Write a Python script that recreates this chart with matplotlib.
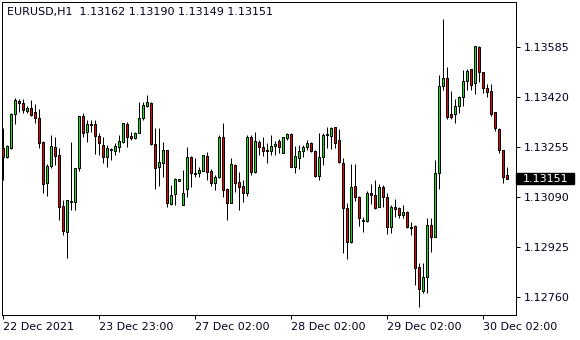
import matplotlib
matplotlib.use("Agg")
import matplotlib.pyplot as plt
from matplotlib.patches import Rectangle
from matplotlib.transforms import blended_transform_factory

symbol_title = "EURUSD,H1  1.13162 1.13190 1.13149 1.13151"

opens = [1.13253, 1.13223, 1.13253, 1.13365, 1.13408, 1.13401, 1.13375, 1.13385, 1.13371, 1.13352,
         1.13272, 1.13137, 1.13193, 1.13256, 1.13230, 1.13061, 1.12975, 1.13078, 1.13075, 1.13187,
         1.13358, 1.13305, 1.13328, 1.13332, 1.13292, 1.13263, 1.13223, 1.13249, 1.13243, 1.13256,
         1.13272, 1.13332, 1.13292, 1.13286, 1.13302, 1.13352, 1.13391, 1.13401, 1.13266, 1.13190,
         1.13203, 1.13246, 1.13068, 1.13101, 1.13144, 1.13065, 1.13118, 1.13223, 1.13170, 1.13170,
         1.13177, 1.13226, 1.13177, 1.13137, 1.13157, 1.13289, 1.13118, 1.13071, 1.13197, 1.13140,
         1.13127, 1.13104, 1.13289, 1.13174, 1.13272, 1.13256, 1.13246, 1.13243, 1.13259, 1.13276,
         1.13236, 1.13286, 1.13299, 1.13190, 1.13220, 1.13243, 1.13256, 1.13269, 1.13243, 1.13161,
         1.13223, 1.13296, 1.13292, 1.13322, 1.13279, 1.13203, 1.13055, 1.12942, 1.13127, 1.13091,
         1.13015, 1.13012, 1.13104, 1.13098, 1.13058, 1.13124, 1.13091, 1.12992, 1.13058, 1.13055,
         1.13032, 1.13041, 1.12992, 1.12995, 1.12860, 1.12781, 1.12827, 1.12998, 1.12959, 1.13170,
         1.13457, 1.13484, 1.13365, 1.13365, 1.13391, 1.13421, 1.13474, 1.13513, 1.13467, 1.13586,
         1.13503, 1.13451, 1.13441, 1.13371, 1.13315, 1.13246, 1.13162]
highs = [1.13319, 1.13263, 1.13368, 1.13418, 1.13414, 1.13414, 1.13391, 1.13411, 1.13398, 1.13381,
         1.13276, 1.13200, 1.13296, 1.13289, 1.13253, 1.13081, 1.13081, 1.13272, 1.13187, 1.13358,
         1.13368, 1.13345, 1.13345, 1.13345, 1.13302, 1.13289, 1.13263, 1.13253, 1.13269, 1.13296,
         1.13335, 1.13338, 1.13305, 1.13305, 1.13404, 1.13404, 1.13428, 1.13404, 1.13319, 1.13319,
         1.13272, 1.13246, 1.13131, 1.13154, 1.13150, 1.13180, 1.13256, 1.13226, 1.13220, 1.13190,
         1.13230, 1.13239, 1.13184, 1.13164, 1.13296, 1.13335, 1.13121, 1.13220, 1.13200, 1.13174,
         1.13147, 1.13296, 1.13296, 1.13305, 1.13279, 1.13289, 1.13269, 1.13296, 1.13276, 1.13282,
         1.13289, 1.13302, 1.13302, 1.13259, 1.13263, 1.13263, 1.13279, 1.13272, 1.13246, 1.13302,
         1.13302, 1.13322, 1.13322, 1.13322, 1.13315, 1.13220, 1.13071, 1.13200, 1.13200, 1.13094,
         1.13025, 1.13111, 1.13134, 1.13147, 1.13134, 1.13131, 1.13104, 1.13065, 1.13084, 1.13058,
         1.13065, 1.13045, 1.13008, 1.12998, 1.12873, 1.12873, 1.13022, 1.13022, 1.13213, 1.13494,
         1.13678, 1.13520, 1.13441, 1.13414, 1.13424, 1.13510, 1.13513, 1.13513, 1.13589, 1.13589,
         1.13503, 1.13464, 1.13464, 1.13371, 1.13319, 1.13246, 1.13190]
lows = [1.13147, 1.13220, 1.13249, 1.13332, 1.13371, 1.13368, 1.13368, 1.13358, 1.13335, 1.13253,
        1.13104, 1.13094, 1.13187, 1.13197, 1.13015, 1.12966, 1.12890, 1.13048, 1.13048, 1.13177,
        1.13289, 1.13272, 1.13305, 1.13233, 1.13230, 1.13203, 1.13190, 1.13213, 1.13230, 1.13239,
        1.13269, 1.13256, 1.13279, 1.13282, 1.13302, 1.13345, 1.13388, 1.13263, 1.13118, 1.13127,
        1.13157, 1.13058, 1.13065, 1.13065, 1.13144, 1.13065, 1.13091, 1.13124, 1.13157, 1.13157,
        1.13177, 1.13147, 1.13127, 1.13114, 1.13154, 1.13091, 1.13015, 1.13071, 1.13107, 1.13048,
        1.13075, 1.13094, 1.13164, 1.13170, 1.13230, 1.13226, 1.13203, 1.13230, 1.13230, 1.13236,
        1.13236, 1.13279, 1.13190, 1.13170, 1.13184, 1.13223, 1.13246, 1.13239, 1.13157, 1.13147,
        1.13197, 1.13253, 1.13249, 1.13253, 1.13203, 1.12906, 1.12886, 1.12939, 1.13078, 1.12995,
        1.12975, 1.13008, 1.13068, 1.13051, 1.13058, 1.13058, 1.12969, 1.12972, 1.13025, 1.13022,
        1.13022, 1.12989, 1.12966, 1.12801, 1.12728, 1.12774, 1.12774, 1.12909, 1.12959, 1.13118,
        1.13444, 1.13348, 1.13348, 1.13335, 1.13368, 1.13391, 1.13444, 1.13444, 1.13431, 1.13470,
        1.13434, 1.13421, 1.13358, 1.13309, 1.13236, 1.13137, 1.13149]
closes = [1.13223, 1.13259, 1.13365, 1.13411, 1.13401, 1.13378, 1.13385, 1.13361, 1.13352, 1.13269,
          1.13134, 1.13193, 1.13259, 1.13226, 1.13058, 1.12979, 1.13081, 1.13075, 1.13187, 1.13358,
          1.13302, 1.13332, 1.13332, 1.13292, 1.13269, 1.13223, 1.13253, 1.13246, 1.13259, 1.13276,
          1.13335, 1.13289, 1.13286, 1.13302, 1.13352, 1.13395, 1.13404, 1.13266, 1.13187, 1.13206,
          1.13246, 1.13071, 1.13098, 1.13150, 1.13150, 1.13104, 1.13223, 1.13170, 1.13167, 1.13180,
          1.13230, 1.13174, 1.13137, 1.13157, 1.13289, 1.13114, 1.13071, 1.13200, 1.13137, 1.13124,
          1.13104, 1.13289, 1.13174, 1.13276, 1.13256, 1.13243, 1.13243, 1.13259, 1.13266, 1.13256,
          1.13289, 1.13299, 1.13190, 1.13226, 1.13243, 1.13256, 1.13269, 1.13243, 1.13161, 1.13223,
          1.13296, 1.13299, 1.13319, 1.13269, 1.13206, 1.13055, 1.12942, 1.13124, 1.13091, 1.13022,
          1.13012, 1.13104, 1.13098, 1.13055, 1.13124, 1.13091, 1.12992, 1.13058, 1.13051, 1.13032,
          1.13041, 1.12992, 1.12989, 1.12857, 1.12787, 1.12827, 1.12998, 1.12959, 1.13170, 1.13457,
          1.13484, 1.13355, 1.13355, 1.13391, 1.13421, 1.13474, 1.13507, 1.13460, 1.13589, 1.13503,
          1.13451, 1.13437, 1.13365, 1.13319, 1.13246, 1.13157, 1.13151]

price_ticks = [1.13585, 1.13420, 1.13255, 1.13090, 1.12925, 1.12760]
time_tick_bars = [0, 24, 48, 72, 96, 120]
time_tick_labels = ["22 Dec 2021", "23 Dec 23:00", "27 Dec 02:00",
                    "28 Dec 02:00", "29 Dec 02:00", "30 Dec 02:00"]
last_price = closes[-1]

W, H = 580, 340
fig = plt.figure(figsize=(W / 100, H / 100), dpi=100)
fig.patch.set_facecolor("white")
ax = fig.add_axes([2 / W, 25 / H, 514 / W, 313 / H])
ax.set_facecolor("white")

px = 0.72  # one pixel in points
bull = "#00ee00"
bear = "#ee0000"
for i, (o, h, l, c) in enumerate(zip(opens, highs, lows, closes)):
    ax.vlines(i, l, h, color="black", lw=px * 1.0, zorder=2)
    bottom = min(o, c)
    height = max(abs(c - o), 0.000005)
    col = bull if c >= o else bear
    ax.add_patch(Rectangle((i - 0.25, bottom), 0.5, height, facecolor=col,
                           edgecolor="black", lw=px, zorder=3))

ax.set_xlim(-0.325, 128.175)
ax.set_ylim(1.127015, 1.137344)

for s in ax.spines.values():
    s.set_color("black")
    s.set_linewidth(px)

ax.yaxis.tick_right()
ax.set_yticks(price_ticks)
ax.set_yticklabels([f"{v:.5f}" for v in price_ticks])
ax.tick_params(axis="y", direction="out", length=3, width=px, pad=2.5,
               labelsize=8, colors="black", labelcolor="#000020")
ax.set_xticks(time_tick_bars)
ax.set_xticklabels(time_tick_labels, ha="left")
ax.tick_params(axis="x", direction="out", length=3, width=px, pad=2,
               labelsize=8, labelcolor="#000020")
for lab in ax.get_xticklabels():
    lab.set_x(0)

# current price marker
tr = blended_transform_factory(ax.transAxes, ax.transData)
half = 5.6 * (1.137344 - 1.127015) / 313
ax.add_patch(Rectangle((1.0, last_price - half), (574 - 516) / 514, 2 * half,
                       transform=tr, facecolor="black", edgecolor="black",
                       clip_on=False, zorder=5))
ax.text((523 - 2) / 514, last_price, f"{last_price:.5f}", transform=tr,
        color="white", fontsize=8, va="center", ha="left", zorder=6,
        clip_on=False)

ax.text(5 / 514, 1 - 4.5 / 313, symbol_title, transform=ax.transAxes,
        fontsize=8, va="top", ha="left", color="#000020")

fig.savefig("out.png", dpi=100, facecolor="white")
